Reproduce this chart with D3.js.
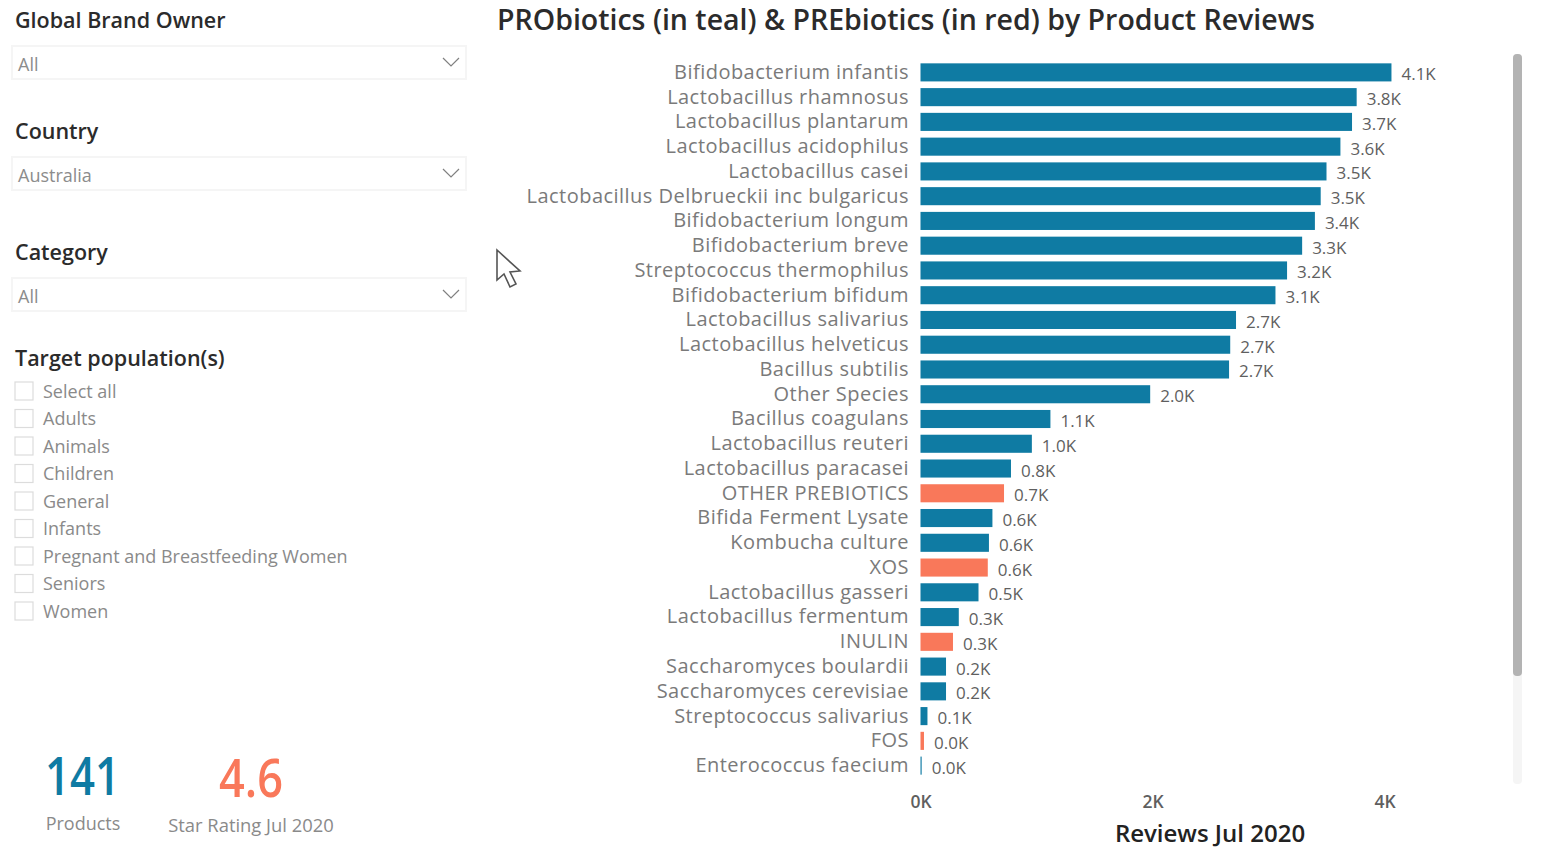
<!DOCTYPE html>
<html>
<head>
<meta charset="utf-8">
<script src="https://cdn.jsdelivr.net/npm/d3@7"></script>
<style>
  html, body { margin: 0; padding: 0; background: #fff; overflow: hidden; }
  svg { display: block; font-family: "Open Sans", sans-serif; }
</style>
</head>
<body>
<div id="chart"></div>
<script>
// Chart data
const species = [
  "Bifidobacterium infantis", "Lactobacillus rhamnosus", "Lactobacillus plantarum",
  "Lactobacillus acidophilus", "Lactobacillus casei", "Lactobacillus Delbrueckii inc bulgaricus",
  "Bifidobacterium longum", "Bifidobacterium breve", "Streptococcus thermophilus",
  "Bifidobacterium bifidum", "Lactobacillus salivarius", "Lactobacillus helveticus",
  "Bacillus subtilis", "Other Species", "Bacillus coagulans", "Lactobacillus reuteri",
  "Lactobacillus paracasei", "OTHER PREBIOTICS", "Bifida Ferment Lysate", "Kombucha culture",
  "XOS", "Lactobacillus gasseri", "Lactobacillus fermentum", "INULIN",
  "Saccharomyces boulardii", "Saccharomyces cerevisiae", "Streptococcus salivarius",
  "FOS", "Enterococcus faecium"
];
const reviews = [
  4060, 3760, 3720, 3620, 3500, 3450, 3400, 3290, 3160, 3060, 2720, 2670, 2660, 1980, 1120,
  960, 780, 720, 620, 590, 580, 500, 330, 280, 220, 220, 60, 30, 10
];
const prebiotics = ["OTHER PREBIOTICS", "XOS", "INULIN", "FOS"];
const xTicks = [0, 2000, 4000];

const slicerNames = ["Global Brand Owner", "Country", "Category"];
const slicerValues = ["All", "Australia", "All"];
const populations = ["Select all", "Adults", "Animals", "Children", "General", "Infants",
  "Pregnant and Breastfeeding Women", "Seniors", "Women"];

const width = 1548;
const height = 852;
const teal = "#0f7ba3";
const red = "#f9785a";

const svg = d3.select("#chart")
  .append("svg")
  .attr("width", width)
  .attr("height", height)
  .attr("viewBox", [0, 0, width, height]);

// Scales
const x = d3.scaleLinear().domain([0, 4000]).range([920.5, 1384.5]);
const y = d3.scaleBand().domain(species).range([60, 778]).paddingInner(0.27).paddingOuter(0.135);

// Title
svg.append("text")
  .attr("x", 497).attr("y", 30)
  .attr("font-size", 28.5).attr("font-weight", 600).attr("fill", "#2b2b2b")
  .text("PRObiotics (in teal) & PREbiotics (in red) by Product Reviews");

// Category labels
const yAxis = svg.append("g")
  .attr("transform", "translate(909,0)")
  .call(d3.axisLeft(y).tickSize(0).tickPadding(0));
yAxis.select(".domain").remove();
yAxis.selectAll("text")
  .attr("font-family", '"Open Sans", sans-serif')
  .attr("font-size", 20).attr("letter-spacing", 0.47).attr("fill", "#7a7a7a");

// Bars
svg.append("g")
  .selectAll("rect")
  .data(species)
  .join("rect")
  .attr("x", x(0))
  .attr("y", d => y(d))
  .attr("width", (d, i) => x(reviews[i]) - x(0))
  .attr("height", y.bandwidth())
  .attr("fill", d => prebiotics.includes(d) ? red : teal);

// Value labels
svg.append("g")
  .selectAll("text")
  .data(species)
  .join("text")
  .attr("x", (d, i) => x(reviews[i]) + 10)
  .attr("y", d => y(d) + y.bandwidth() / 2 + 8)
  .attr("font-size", 17).attr("fill", "#5f5f5f")
  .text((d, i) => (reviews[i] / 1000).toFixed(1) + "K");

// X axis
const xAxis = svg.append("g")
  .attr("transform", "translate(0,796)")
  .call(d3.axisBottom(x).tickValues(xTicks).tickSize(0).tickPadding(0)
    .tickFormat(d => (d / 1000) + "K"));
xAxis.select(".domain").remove();
xAxis.selectAll("text")
  .attr("font-family", '"Open Sans", sans-serif')
  .attr("font-size", 17.5).attr("font-weight", 600).attr("fill", "#5f5f5f");

svg.append("text")
  .attr("x", 1210).attr("y", 842)
  .attr("text-anchor", "middle")
  .attr("font-size", 24).attr("font-weight", 600).attr("fill", "#222")
  .text("Reviews Jul 2020");

// Scrollbar
svg.append("rect").attr("x", 1513).attr("y", 54).attr("width", 9).attr("height", 730)
  .attr("rx", 4).attr("fill", "#f5f5f5");
svg.append("rect").attr("x", 1513).attr("y", 54).attr("width", 9).attr("height", 622)
  .attr("rx", 4).attr("fill", "#b3b3b3");

// Dropdown slicers
const slicerTitleY = [28, 139, 260];
const slicerBoxY = [46, 157, 278];
slicerNames.forEach((name, i) => {
  svg.append("text")
    .attr("x", 15).attr("y", slicerTitleY[i])
    .attr("font-size", 21.5).attr("font-weight", 600).attr("fill", "#2b2b2b")
    .text(name);
  svg.append("rect")
    .attr("x", 12).attr("y", slicerBoxY[i]).attr("width", 454).attr("height", 33)
    .attr("fill", "#fff").attr("stroke", "#f5f5f5").attr("stroke-width", 2);
  svg.append("text")
    .attr("x", 18).attr("y", slicerBoxY[i] + 24.5)
    .attr("font-size", 18).attr("fill", "#8c8c8c")
    .text(slicerValues[i]);
  svg.append("path")
    .attr("d", `M443,${slicerBoxY[i] + 12}l8,8l8,-8`)
    .attr("fill", "none").attr("stroke", "#808080").attr("stroke-width", 1.2);
});

// Target population checklist
svg.append("text")
  .attr("x", 15).attr("y", 366)
  .attr("font-size", 21.5).attr("font-weight", 600).attr("fill", "#2b2b2b")
  .text("Target population(s)");

const rowY = d3.scalePoint().domain(populations).range([391, 611]);
const rows = svg.append("g")
  .selectAll("g")
  .data(populations)
  .join("g")
  .attr("transform", d => `translate(0,${rowY(d)})`);
rows.append("rect")
  .attr("x", 15).attr("y", -9).attr("width", 18).attr("height", 18)
  .attr("fill", "#fff").attr("stroke", "#dcdcdc").attr("stroke-width", 1.2);
rows.append("text")
  .attr("x", 43).attr("y", 6.5)
  .attr("font-size", 18).attr("fill", "#8a8a8a")
  .text(d => d);

// KPI cards
svg.append("text")
  .attr("x", 45).attr("y", 795)
  .attr("font-size", 52).attr("font-weight", 600).attr("fill", teal)
  .attr("textLength", 75).attr("lengthAdjust", "spacingAndGlyphs")
  .text("141");
svg.append("text")
  .attr("x", 83).attr("y", 829.5).attr("text-anchor", "middle")
  .attr("font-size", 18).attr("fill", "#8a8a8a")
  .text("Products");
svg.append("text")
  .attr("x", 219).attr("y", 797)
  .attr("font-size", 52).attr("font-weight", 600).attr("fill", red)
  .attr("textLength", 64).attr("lengthAdjust", "spacingAndGlyphs")
  .text("4.6");
svg.append("text")
  .attr("x", 251).attr("y", 831.5).attr("text-anchor", "middle")
  .attr("font-size", 18.4).attr("fill", "#8a8a8a")
  .text("Star Rating Jul 2020");

// Mouse pointer left in the screenshot
svg.append("path")
  .attr("d", "M497,250L497,280L504,274L510,287L516,284L510,272L520,271Z")
  .attr("fill", "#fff").attr("stroke", "#555").attr("stroke-width", 1.6);
</script>
</body>
</html>
